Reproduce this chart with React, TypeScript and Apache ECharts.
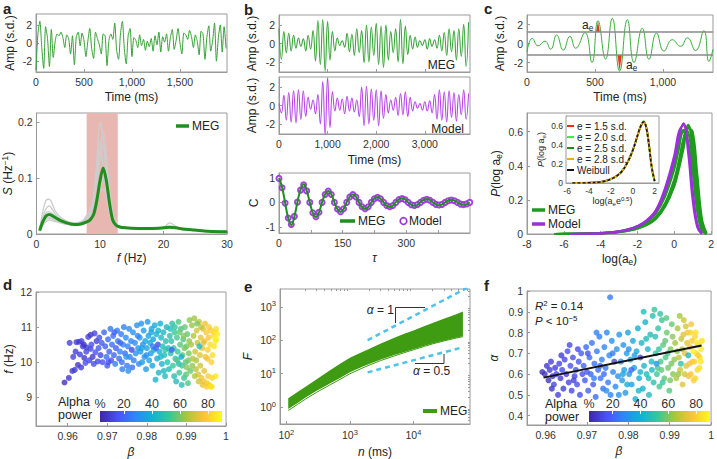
import React, { useEffect, useRef } from 'react';
import * as echarts from 'echarts';

// ---------------- data ----------------
// a: MEG trace (20 ms sampling)
const aStepMs = 20;
const aAmp = [
  -3.0, 1.0, 2.4, -0.5, -2.8, 1.8, 0.5, -2.6, 1.5, -1.6,
  0.2, 1.0, 0.8, 1.2, 0.6, -0.5, 0.9, 0.5, -1.2, 0.8,
  -2.4, 0.7, 1.2, -0.3, 1.1, 0.3, -1.5, 0.2, 1.6, -0.6,
  -1.7, 1.2, 0.5, -0.2, -1.2, 1.0, 0.8, -2.5, 0.3, 1.0,
  0.4, 2.2, -0.8, -1.8, 1.0, 2.4, -0.6, -2.3, 0.8, 1.6,
  -1.5, 0.6, 0.3, -0.5, 0.9, -0.3, 0.4, -0.8, 0.2, -0.4,
  0.5, -0.9, 0.8, -0.2, 1.2, -1.0, 0.7, 0.1, 1.0, -0.9,
  0.6, 1.5, -0.7, 0.3, 1.6, 0.0, -1.2, 1.1, 0.9, 0.4,
  1.4, 0.7, -0.5, 0.9, 0.2, -1.3, 1.3, 1.0, -1.8, 0.6,
  1.9, -0.9, 0.2, 2.2, -2.0, 0.6, 2.0, -1.0, 1.8, -0.6,
];

// a: power spectra
const specFreq = [0.5, 1, 1.5, 2, 3, 4, 5, 6, 7, 8, 8.5, 9, 9.5, 10, 10.5, 11, 11.5, 12, 12.5, 13, 14, 16, 18, 20, 21, 22, 23, 25, 27, 30];
const specMean = [0.006, 0.022, 0.032, 0.035, 0.029, 0.023, 0.019, 0.017, 0.018, 0.022, 0.026, 0.035, 0.06, 0.095, 0.118, 0.095, 0.055, 0.025, 0.016, 0.013, 0.011, 0.010, 0.010, 0.011, 0.012, 0.011, 0.009, 0.007, 0.005, 0.004];
const specSubjects = [
  [0.01, 0.04, 0.06, 0.062, 0.04, 0.028, 0.022, 0.02, 0.022, 0.03, 0.04, 0.07, 0.13, 0.2, 0.17, 0.1, 0.05, 0.025, 0.015, 0.012, 0.01, 0.009, 0.009, 0.01, 0.012, 0.01, 0.008, 0.006, 0.005, 0.004],
  [0.008, 0.03, 0.045, 0.05, 0.035, 0.025, 0.02, 0.018, 0.02, 0.028, 0.035, 0.055, 0.1, 0.15, 0.185, 0.14, 0.07, 0.03, 0.018, 0.014, 0.012, 0.011, 0.011, 0.012, 0.014, 0.012, 0.009, 0.007, 0.005, 0.004],
  [0.006, 0.02, 0.03, 0.03, 0.025, 0.02, 0.017, 0.016, 0.018, 0.03, 0.045, 0.06, 0.09, 0.13, 0.16, 0.12, 0.06, 0.025, 0.016, 0.012, 0.011, 0.01, 0.01, 0.012, 0.02, 0.013, 0.009, 0.006, 0.005, 0.004],
  [0.005, 0.015, 0.022, 0.025, 0.022, 0.019, 0.017, 0.016, 0.02, 0.035, 0.045, 0.05, 0.06, 0.075, 0.08, 0.07, 0.045, 0.025, 0.016, 0.013, 0.012, 0.01, 0.01, 0.011, 0.012, 0.011, 0.009, 0.007, 0.005, 0.004],
  [0.007, 0.025, 0.038, 0.04, 0.032, 0.024, 0.019, 0.018, 0.02, 0.028, 0.038, 0.065, 0.11, 0.165, 0.12, 0.07, 0.035, 0.02, 0.015, 0.012, 0.011, 0.01, 0.01, 0.011, 0.013, 0.011, 0.008, 0.006, 0.005, 0.004],
  [0.005, 0.018, 0.026, 0.028, 0.024, 0.02, 0.017, 0.016, 0.017, 0.022, 0.026, 0.035, 0.055, 0.08, 0.1, 0.11, 0.08, 0.04, 0.02, 0.014, 0.011, 0.01, 0.01, 0.011, 0.012, 0.011, 0.009, 0.007, 0.005, 0.004],
];
const alphaBand = [7.9, 12.8];

// b: MEG and model traces (extrema every 50 ms)
const bStepMs = 50;
const bMEG = [
  1.6, -1.7, 1.3, -1.0, 1.1, -0.8, 0.9, -0.5, 0.6, -0.3, 0.5, -0.8, 0.9, -0.6, 1.4, -1.9, 2.5, -2.3, 2.6, -3.0,
  2.4, -1.8, 1.3, -0.8, 0.6, -0.2, 0.3, -0.4, 1.1, -0.9, 1.0, -1.3, 1.6, -1.0, 1.4, -2.1, 2.0, -2.0, 1.8, -1.3,
  2.2, -2.3, 1.9, -2.6, 2.0, -1.8, 1.3, -1.0, 1.6, -2.0, 2.6, -2.2, 1.9, -1.2, 0.9, -0.6, 0.7, -0.4, 0.3, -0.2,
  0.4, -0.6, 0.5, -0.3, 0.4, -0.5, 0.9, -0.8, 1.2, -1.3, 1.6, -0.9, 1.4, -1.8, 1.6, -1.4, 2.1, -2.5, 2.3,
];
const bModel = [
  0.2, -0.8, 1.1, -1.6, 1.4, -1.8, 1.6, -1.9, 1.7, -1.5, 1.6, -1.2, 0.9, -0.4, 0.6, -0.9, 1.2, -2.0, 2.6, -3.2,
  3.0, -2.4, 1.5, -0.6, 0.8, -0.5, 0.7, -0.9, 1.0, -0.6, 0.8, -0.7, 0.6, -1.2, 2.0, -2.2, 2.1, -2.0, 1.8, -1.6,
  1.7, -2.2, 1.6, -1.4, 1.2, -0.8, 0.6, -0.5, 0.9, -1.1, 1.3, -1.0, 1.5, -1.2, 0.9, -0.6, 0.4, -0.3, 0.2, -0.5,
  0.4, -0.6, 0.5, -0.8, 1.2, -1.5, 1.7, -1.6, 1.5, -1.8, 1.6, -1.3, 1.4, -1.7, 1.2, -1.0, 1.7, -1.5, 1.3,
];

// b: autocorrelation
const acStep = 7.25;
const acMEG = [
  1.0, 0.62, -0.02, -0.65, -0.92, -0.58, 0.02, 0.52, 0.74, 0.48, 0.0, -0.43, -0.6, -0.41, 0.01, 0.33,
  0.47, 0.33, 0.0, -0.28, -0.39, -0.27, 0.01, 0.23, 0.33, 0.23, 0.0, -0.19, -0.27, -0.19, 0.0, 0.16,
  0.22, 0.15, 0.0, -0.14, -0.19, -0.13, 0.01, 0.12, 0.17, 0.12, 0.0, -0.1, -0.14, -0.1, 0.01, 0.1,
  0.14, 0.1, 0.0, -0.08, -0.12, -0.08, 0.0, 0.08, 0.11, 0.08, 0.0, -0.07, -0.1, -0.07, 0.0,
];
const acModel = [
  0.98, 0.6, -0.03, -0.64, -0.9, -0.57, 0.01, 0.5, 0.72, 0.47, 0.0, -0.42, -0.59, -0.4, 0.0, 0.32,
  0.46, 0.32, 0.0, -0.27, -0.38, -0.26, 0.0, 0.22, 0.32, 0.22, 0.0, -0.18, -0.26, -0.18, 0.0, 0.15,
  0.21, 0.15, 0.0, -0.13, -0.18, -0.13, 0.0, 0.12, 0.16, 0.11, 0.0, -0.1, -0.13, -0.09, 0.0, 0.09,
  0.13, 0.09, 0.0, -0.08, -0.11, -0.08, 0.0, 0.07, 0.1, 0.07, 0.0, -0.07, -0.09, -0.06, 0.0,
];

// c: filtered trace with threshold events
const cTime = [0, 39, 81, 132, 174, 218, 267, 316, 358, 426, 478, 522, 578, 627, 681, 738, 787, 848, 897, 953, 1007, 1068, 1130, 1179, 1240, 1301, 1338, 1368];
const cAmp = [-0.9, 0.55, -0.25, 0.25, -0.6, 0.9, -0.7, 0.75, -0.5, 1.15, -2.0, 2.4, -1.65, 2.65, -2.9, 2.5, -2.0, 1.6, -1.65, 1.1, -0.8, 0.4, -0.3, 0.6, -0.75, 1.35, -1.9, -0.6];
const cThresh = [1.2, -1.2];
const cEventUp = [[508, 1.2], [522, 2.4], [536, 1.2]];
const cEventDown = [[666, -1.2], [681, -2.9], [697, -1.2]];

// c: distributions of log(a_e)
const logAe = [-6.5, -5.5, -4.5, -4, -3.5, -3, -2.5, -2, -1.5, -1, -0.5, 0, 0.25, 0.5, 0.75, 1, 1.25, 1.5, 1.75];
const megDist = [
  [0, 0.001, 0.003, 0.005, 0.009, 0.015, 0.026, 0.042, 0.07, 0.12, 0.22, 0.38, 0.5, 0.61, 0.6, 0.42, 0.17, 0.03, 0],
  [0, 0.001, 0.003, 0.005, 0.008, 0.013, 0.022, 0.036, 0.06, 0.1, 0.18, 0.32, 0.43, 0.56, 0.64, 0.5, 0.24, 0.05, 0.002],
  [0, 0.001, 0.002, 0.004, 0.007, 0.011, 0.019, 0.031, 0.052, 0.088, 0.16, 0.28, 0.38, 0.5, 0.62, 0.6, 0.35, 0.09, 0.005],
  [0, 0.001, 0.003, 0.006, 0.01, 0.016, 0.028, 0.045, 0.075, 0.13, 0.23, 0.4, 0.52, 0.6, 0.54, 0.36, 0.13, 0.02, 0],
  [0, 0.001, 0.002, 0.004, 0.007, 0.012, 0.02, 0.034, 0.056, 0.095, 0.17, 0.3, 0.41, 0.54, 0.63, 0.57, 0.3, 0.07, 0.003],
];
const modelAe = [-5.7, -5, -4.5, -4, -3.5, -3, -2.5, -2, -1.5, -1, -0.5, 0, 0.25, 0.5, 0.75, 1, 1.25, 1.5];
const modelDist = [
  [0, 0.001, 0.002, 0.004, 0.008, 0.015, 0.027, 0.047, 0.08, 0.14, 0.27, 0.46, 0.6, 0.64, 0.48, 0.2, 0.04, 0],
  [0, 0.001, 0.002, 0.004, 0.008, 0.014, 0.025, 0.044, 0.075, 0.13, 0.25, 0.43, 0.56, 0.65, 0.53, 0.26, 0.06, 0.002],
];
// c inset: collapsed distributions
const insetX = [-5.5, -4, -3, -2.5, -2, -1.5, -1, -0.5, 0, 0.5, 0.75, 1, 1.25, 1.5, 1.75, 2];
const insetLabels = ['e = 1.5 s.d.', 'e = 2.0 s.d.', 'e = 2.5 s.d.', 'e = 2.8 s.d.', 'Weibull'];
const insetCurves = [
  [0, 0.003, 0.011, 0.022, 0.042, 0.072, 0.122, 0.212, 0.342, 0.515, 0.595, 0.635, 0.58, 0.39, 0.16, 0.025],
  [0, 0.002, 0.009, 0.019, 0.039, 0.069, 0.119, 0.208, 0.338, 0.522, 0.602, 0.645, 0.565, 0.375, 0.145, 0.018],
  [0, 0.002, 0.01, 0.021, 0.041, 0.071, 0.121, 0.211, 0.341, 0.518, 0.598, 0.638, 0.572, 0.382, 0.152, 0.021],
  [0, 0.002, 0.01, 0.02, 0.04, 0.07, 0.12, 0.21, 0.34, 0.52, 0.6, 0.64, 0.57, 0.38, 0.15, 0.02],
];
const weibull = [0, 0.002, 0.01, 0.02, 0.04, 0.07, 0.12, 0.21, 0.34, 0.52, 0.6, 0.64, 0.57, 0.38, 0.15, 0.02];

// d: [beta, peak frequency (Hz), alpha power (%)]
const dPoints = [
  [0.9592, 9.42, 6], [0.9603, 9.55, 8], [0.9612, 9.75, 9], [0.9618, 9.78, 10], [0.9622, 10.57, 12], [0.9628, 10.58, 9], [0.9631, 10.22, 11], [0.9626, 9.92, 8],
  [0.9635, 10.6, 10], [0.9638, 10.45, 12], [0.9642, 10.12, 9], [0.9645, 9.98, 14], [0.9648, 10.42, 10], [0.9652, 10.72, 11], [0.9655, 10.05, 13], [0.9658, 10.38, 12],
  [0.966, 10.5, 15], [0.9663, 10.15, 9], [0.9666, 9.95, 14], [0.9668, 10.82, 12], [0.967, 10.28, 16], [0.9673, 10.6, 11], [0.9676, 10.02, 13], [0.9678, 10.4, 17],
  [0.968, 10.7, 14], [0.9683, 10.2, 12], [0.9686, 10.55, 18], [0.9688, 10.0, 15], [0.9641, 10.5, 7], [0.9647, 10.3, 13], [0.962, 10.3, 10], [0.9658, 10.78, 9],
  [0.9605, 10.55, 11], [0.9614, 10.15, 12], [0.9634, 9.85, 10],
  [0.9692, 10.85, 20], [0.9695, 10.45, 18], [0.9698, 10.15, 22], [0.97, 9.9, 17], [0.9702, 10.65, 21], [0.9705, 10.3, 19], [0.9708, 10.95, 24], [0.971, 10.05, 16],
  [0.9712, 10.5, 23], [0.9715, 10.75, 22], [0.9717, 10.2, 20], [0.972, 9.95, 25], [0.9722, 10.4, 18], [0.9725, 10.9, 26], [0.9727, 10.6, 24], [0.973, 10.1, 21],
  [0.9732, 10.3, 27], [0.9735, 10.8, 25], [0.9737, 10.0, 23], [0.974, 10.5, 28], [0.9742, 11.0, 26], [0.9745, 10.25, 22], [0.9747, 10.7, 29], [0.975, 9.9, 24],
  [0.9752, 10.45, 27], [0.9755, 10.95, 30], [0.9757, 10.15, 25], [0.976, 10.6, 28], [0.9762, 10.35, 12], [0.9765, 10.85, 31], [0.9767, 10.05, 26], [0.977, 10.55, 29],
  [0.9772, 10.25, 30], [0.9775, 11.05, 32], [0.9777, 10.75, 28], [0.978, 9.95, 27], [0.9703, 10.0, 14], [0.9718, 10.85, 19], [0.9733, 10.55, 20], [0.9748, 10.15, 31],
  [0.9763, 9.85, 22], [0.9778, 10.4, 33], [0.9738, 9.8, 26], [0.9753, 9.75, 30],
  [0.9782, 10.7, 30], [0.9784, 10.3, 33], [0.9786, 11.1, 31], [0.9788, 10.0, 35], [0.979, 10.5, 32], [0.9792, 10.9, 34], [0.9794, 10.15, 30], [0.9796, 10.6, 36],
  [0.9798, 9.8, 33], [0.98, 10.4, 35], [0.9802, 11.15, 33], [0.9804, 10.75, 37], [0.9806, 10.05, 36], [0.9808, 10.55, 38], [0.981, 10.25, 34], [0.9812, 10.95, 39],
  [0.9814, 9.9, 37], [0.9816, 10.65, 35], [0.9818, 10.35, 40], [0.982, 11.05, 38], [0.9822, 9.5, 42], [0.9824, 10.8, 41], [0.9826, 10.1, 39], [0.9828, 10.5, 12],
  [0.983, 9.7, 43], [0.9832, 10.3, 41], [0.9834, 11.1, 40], [0.9836, 10.7, 44], [0.9838, 9.95, 42], [0.984, 10.45, 45], [0.9842, 10.85, 43], [0.9844, 10.2, 46],
  [0.9846, 9.6, 45], [0.9848, 10.6, 47], [0.985, 11.0, 44], [0.9852, 10.0, 48], [0.9854, 10.4, 46], [0.9856, 9.8, 47], [0.9858, 10.75, 49], [0.986, 10.25, 48],
  [0.9787, 10.4, 36], [0.9799, 10.2, 31], [0.9811, 10.85, 36], [0.9823, 10.4, 20], [0.9835, 10.15, 43], [0.9847, 10.35, 50], [0.9859, 10.95, 46], [0.9815, 10.45, 24],
  [0.9829, 10.9, 42], [0.9843, 9.75, 44],
  [0.9862, 10.6, 50], [0.9864, 11.1, 49], [0.9866, 9.9, 52], [0.9868, 10.4, 51], [0.987, 10.85, 53], [0.9872, 10.1, 50], [0.9874, 9.45, 46], [0.9876, 10.7, 54],
  [0.9878, 10.3, 52], [0.988, 11.15, 55], [0.9882, 9.7, 53], [0.9884, 10.5, 56], [0.9886, 10.95, 54], [0.9888, 9.35, 48], [0.989, 10.2, 57], [0.9892, 10.65, 55],
  [0.9894, 9.55, 52], [0.9896, 11.0, 58], [0.9898, 10.0, 56], [0.99, 10.45, 59], [0.9902, 10.8, 57], [0.9904, 9.4, 55], [0.9906, 10.25, 60], [0.9908, 11.2, 62],
  [0.991, 9.75, 58], [0.9863, 10.35, 20], [0.9869, 9.6, 47], [0.9877, 10.05, 55], [0.9883, 10.85, 58], [0.9889, 9.9, 54], [0.9895, 10.4, 60], [0.9901, 9.85, 61],
  [0.9907, 10.6, 63], [0.9871, 11.0, 51], [0.9887, 10.15, 40], [0.9899, 9.65, 57], [0.9905, 10.05, 59], [0.9881, 9.95, 49], [0.9893, 10.75, 62],
  [0.9912, 10.5, 65], [0.9914, 11.05, 63], [0.9916, 10.1, 67], [0.9918, 10.75, 66], [0.992, 11.25, 64], [0.9922, 10.3, 70], [0.9924, 9.8, 68], [0.9926, 10.9, 71],
  [0.9928, 10.55, 69], [0.993, 9.65, 72], [0.9932, 11.15, 70], [0.9934, 10.2, 73], [0.9936, 10.7, 74], [0.9938, 9.55, 76], [0.994, 10.4, 75], [0.9942, 10.95, 72],
  [0.9944, 9.45, 78], [0.9946, 10.6, 77], [0.9948, 10.15, 76], [0.995, 10.85, 79], [0.9952, 9.4, 80], [0.9954, 10.35, 81], [0.9956, 10.7, 78], [0.9958, 9.35, 82],
  [0.996, 10.5, 83], [0.9962, 10.9, 80], [0.9964, 9.3, 84], [0.9966, 10.2, 84], [0.9968, 10.75, 85], [0.997, 10.45, 86], [0.9972, 10.85, 82], [0.9974, 9.6, 86],
  [0.9976, 10.65, 88], [0.9978, 10.8, 87], [0.9915, 9.9, 62], [0.9925, 10.05, 65], [0.9935, 9.9, 71], [0.9945, 9.75, 74], [0.9955, 9.6, 80], [0.9965, 9.55, 83],
  [0.9927, 11.1, 60], [0.9937, 11.0, 68], [0.9947, 11.1, 75], [0.9957, 11.0, 79], [0.9933, 10.45, 45], [0.9943, 10.55, 73], [0.9953, 10.1, 77], [0.9963, 10.0, 81],
  [0.9973, 10.6, 87], [0.9921, 9.6, 66], [0.9931, 9.45, 70], [0.9941, 9.35, 74], [0.9951, 9.3, 79], [0.9961, 9.3, 85], [0.9975, 10.95, 84],
];

// e: DFA fluctuation function envelope
const eN = [107, 150, 200, 300, 500, 700, 1000, 1500, 2000, 3000, 5000, 7000, 10000, 15000, 20000, 30000, 45000, 60000];
const eUpper = [1.85, 2.84, 4.1, 6.8, 13.1, 20, 30, 43, 55, 78, 119, 153, 197, 265, 326, 435, 582, 718];
const eLower = [0.88, 1.35, 1.95, 3.1, 5.3, 7.5, 11, 15.5, 19.5, 26, 36, 44, 54, 68, 80, 97, 117, 132];
const eStray = [0.8, 1.22, 1.75, 2.8, 4.8, 6.8, 10, 14.2, 18, 24.5, 34, 42, 52, 66, 78, 95, 114, 128];
const eSlope1 = [[1900, 100], [70000, 3684]];
const eSlopeHalf = [[1900, 11], [60000, 61.8]];

// f: [beta, DFA exponent alpha, alpha power (%)]
const fPoints = [
  [0.9592, 0.61, 6], [0.9598, 0.6, 8], [0.9603, 0.64, 9], [0.9607, 0.57, 7], [0.961, 0.62, 10], [0.9613, 0.66, 11], [0.9617, 0.59, 9], [0.962, 0.55, 12],
  [0.9623, 0.63, 10], [0.9626, 0.6, 13], [0.963, 0.5, 11], [0.9633, 0.65, 12], [0.9636, 0.58, 9], [0.964, 0.62, 14], [0.9643, 0.53, 10], [0.9646, 0.67, 13],
  [0.965, 0.6, 11], [0.9653, 0.71, 15], [0.9656, 0.56, 12], [0.966, 0.64, 16], [0.9663, 0.52, 13], [0.9666, 0.68, 14], [0.967, 0.59, 12], [0.9673, 0.62, 17],
  [0.9676, 0.55, 15], [0.968, 0.66, 16], [0.9683, 0.5, 14], [0.9686, 0.7, 18], [0.9689, 0.6, 15], [0.9615, 0.53, 8], [0.9638, 0.69, 10], [0.9658, 0.74, 13],
  [0.9668, 0.57, 11], [0.9678, 0.72, 14],
  [0.9692, 0.64, 20], [0.9695, 0.57, 18], [0.9698, 0.73, 21], [0.97, 0.61, 17], [0.9703, 0.52, 19], [0.9706, 0.68, 22], [0.9709, 0.6, 20], [0.9712, 0.75, 24],
  [0.9715, 0.55, 18], [0.9718, 0.65, 23], [0.9721, 0.49, 21], [0.9724, 0.71, 25], [0.9727, 0.62, 22], [0.973, 0.78, 26], [0.9733, 0.58, 24], [0.9736, 0.67, 27],
  [0.9739, 0.53, 23], [0.9742, 0.73, 28], [0.9745, 0.63, 25], [0.9748, 0.8, 29], [0.9751, 0.56, 26], [0.9754, 0.69, 30], [0.9757, 0.5, 27], [0.976, 0.76, 31],
  [0.9763, 0.61, 28], [0.9766, 0.66, 12], [0.9769, 0.54, 29], [0.9772, 0.72, 32], [0.9775, 0.59, 30], [0.9778, 0.79, 33], [0.9756, 0.97, 25], [0.9702, 0.7, 15],
  [0.9717, 0.58, 26], [0.9732, 0.64, 19], [0.9747, 0.52, 30], [0.9762, 0.7, 24], [0.9777, 0.5, 31], [0.9741, 0.6, 22], [0.9723, 0.8, 27],
  [0.9782, 0.66, 30], [0.9785, 0.57, 33], [0.9788, 0.74, 31], [0.979, 0.62, 35], [0.9793, 0.51, 32], [0.9796, 0.7, 34], [0.9799, 0.8, 36], [0.9802, 0.6, 33],
  [0.9805, 0.67, 37], [0.9808, 0.55, 36], [0.9811, 0.76, 38], [0.9814, 0.63, 35], [0.9817, 0.48, 40], [0.982, 0.71, 38], [0.9823, 0.82, 41], [0.9826, 0.58, 39],
  [0.9829, 0.68, 12], [0.9832, 0.75, 43], [0.9835, 0.53, 41], [0.9838, 0.64, 44], [0.9841, 0.85, 42], [0.9844, 0.6, 45], [0.9847, 0.72, 43], [0.985, 0.5, 46],
  [0.9853, 0.79, 47], [0.9856, 0.66, 45], [0.9859, 0.88, 48], [0.9861, 0.56, 49], [0.9787, 0.6, 36], [0.9801, 0.72, 30], [0.9815, 0.69, 34], [0.9829, 0.61, 42],
  [0.9843, 0.77, 46], [0.9857, 0.62, 44], [0.9797, 0.55, 38], [0.9825, 0.52, 44], [0.9849, 0.58, 47], [0.9837, 0.9, 45], [0.9807, 0.62, 20],
  [0.9863, 0.91, 52], [0.9866, 0.7, 50], [0.9869, 0.6, 53], [0.9872, 0.82, 51], [0.9875, 0.54, 54], [0.9878, 0.66, 55], [0.9881, 0.86, 53], [0.9884, 0.74, 56],
  [0.9887, 0.58, 57], [0.989, 0.68, 55], [0.9893, 0.8, 58], [0.9896, 0.63, 59], [0.9899, 0.52, 56], [0.9902, 0.72, 60], [0.9905, 0.84, 58], [0.9908, 0.6, 61],
  [0.9911, 0.67, 62], [0.9865, 0.78, 48], [0.9871, 0.63, 55], [0.9877, 0.89, 50], [0.9883, 0.56, 52], [0.9889, 0.76, 57], [0.9895, 0.7, 54], [0.9901, 0.57, 60],
  [0.9907, 0.78, 62], [0.9868, 0.65, 30], [0.988, 0.62, 57], [0.9892, 0.87, 56], [0.9904, 0.65, 59], [0.9874, 0.72, 51],
  [0.9913, 0.75, 64], [0.9916, 0.58, 66], [0.9919, 0.82, 65], [0.9922, 0.68, 68], [0.9925, 0.62, 70], [0.9928, 0.77, 69], [0.9931, 0.55, 72], [0.9934, 0.86, 70],
  [0.9937, 0.7, 74], [0.994, 0.64, 73], [0.9943, 0.8, 76], [0.9946, 0.59, 75], [0.9949, 0.73, 78], [0.9952, 0.84, 77], [0.9955, 0.66, 80], [0.9958, 0.57, 79],
  [0.9961, 0.78, 82], [0.9964, 0.7, 84], [0.9967, 0.62, 83], [0.997, 0.74, 86], [0.9973, 0.68, 85], [0.9976, 0.72, 87], [0.9978, 0.76, 84], [0.9918, 0.71, 62],
  [0.9924, 0.88, 64], [0.993, 0.72, 67], [0.9936, 0.6, 71], [0.9942, 0.75, 74], [0.9948, 0.65, 77], [0.9954, 0.76, 79], [0.996, 0.66, 81], [0.9966, 0.75, 86],
  [0.9972, 0.63, 84], [0.9927, 0.65, 50], [0.9939, 0.83, 72], [0.9951, 0.6, 78], [0.9963, 0.8, 85], [0.9957, 0.71, 88], [0.9945, 0.69, 45], [0.9933, 0.79, 73],
  [0.9921, 0.6, 63], [0.9969, 0.69, 80], [0.9975, 0.66, 86], [0.9962, 0.58, 82], [0.995, 0.8, 81],
];
const fFit = [[0.9595, 0.583], [0.9977, 0.738]];

// colour bar
const powerRange = [3, 90];
const powerTicks = [20, 40, 60, 80];

// ---------------- styling ----------------
const FONT = "'Liberation Sans', Arial, Helvetica, sans-serif";
const FRAME = '#9a9a9a';
const PARULA = ['#3e26a8', '#4852f4', '#2e87f7', '#12b1d6', '#37c897', '#abc739', '#fec338', '#f9fb14'];
const GREEN = '#1f8f1f';
const PURPLE = '#9b30d9';

const richFor = (size: number) => ({
  i: { fontStyle: 'italic', fontSize: size, fontFamily: FONT, color: '#222' },
  sup: { fontSize: size * 0.68, fontFamily: FONT, color: '#222', padding: [0, 0, size * 0.5, 0] },
  sub: { fontSize: size * 0.68, fontFamily: FONT, color: '#222', padding: [size * 0.5, 0, 0, 0] },
});
const RICH = richFor(12);

const comma = (v: number) => (v >= 1000 ? `${Math.floor(v / 1000)},${String(v % 1000).padStart(3, '0')}` : String(v));
const pow10 = (v: number) => `{b|10}{s|${Math.round(Math.log10(v))}}`;

function axis(grid: number, min: number, max: number, ticks: number[], o: any = {}) {
  return {
    type: o.type ?? 'value',
    logBase: 10,
    gridIndex: grid,
    min,
    max,
    position: o.position,
    z: o.z,
    axisLine: { show: o.line ?? true, onZero: false, lineStyle: { color: FRAME } },
    axisTick: {
      show: o.tick ?? true,
      inside: true,
      length: o.tickLen ?? 3,
      customValues: ticks,
      lineStyle: { color: o.tickColor ?? FRAME },
    },
    axisLabel: {
      show: o.labels ?? true,
      customValues: o.labelValues ?? ticks,
      formatter: o.fmt ?? ((v: number) => String(v)),
      margin: o.margin ?? 4,
      color: '#333',
      fontSize: o.labelSize ?? 10.5,
      fontFamily: FONT,
      rich: o.labelRich,
    },
    splitLine: { show: false },
    minorTick: { show: false },
    name: o.name,
    nameLocation: 'middle',
    nameGap: o.gap ?? 20,
    nameTextStyle: { fontSize: o.nameSize ?? 12, color: '#222', fontFamily: FONT, rich: o.nameRich ?? RICH },
  };
}

function polygonSeries(xi: number, yi: number, pts: number[][], color: string) {
  return {
    type: 'custom',
    xAxisIndex: xi,
    yAxisIndex: yi,
    silent: true,
    clip: true,
    data: [pts[0]],
    renderItem: (_p: any, api: any) => ({
      type: 'polygon',
      shape: { points: pts.map((p) => api.coord(p)) },
      style: { fill: color },
    }),
  };
}

function text(x: number, y: number, t: string, o: any = {}) {
  return {
    type: 'text',
    x,
    y,
    z: 100,
    silent: true,
    style: {
      text: t,
      fill: o.fill ?? '#222',
      fontSize: o.size ?? 12,
      fontFamily: FONT,
      fontWeight: o.weight ?? 'normal',
      align: o.align ?? 'left',
      verticalAlign: 'middle',
      rich: o.rich ?? richFor(o.size ?? 12),
    },
  };
}
function seg(x1: number, y1: number, x2: number, y2: number, color: string, w: number) {
  return { type: 'line', z: 100, silent: true, shape: { x1, y1, x2, y2 }, style: { stroke: color, lineWidth: w } };
}

function buildOption() {
  const G = [
    [36, 14, 191, 58], // 0 a trace
    [36, 113, 191, 121], // 1 a spectrum
    [279, 15, 191, 57], // 2 b MEG
    [279, 77, 191, 57], // 3 b model
    [279, 173, 191, 60], // 4 b autocorrelation
    [527, 15, 186, 57], // 5 c trace
    [527, 113, 186, 121], // 6 c distributions
    [566, 116, 93, 67], // 7 c inset
    [36, 292, 190, 134], // 8 d
    [100, 411, 122, 11], // 9 d colour bar
    [280, 289, 190, 136], // 10 e
    [527, 291, 185, 134], // 11 f
    [589, 411, 121, 11], // 12 f colour bar
  ];
  const grid = G.map(([left, top, width, height], i) => ({
    left,
    top,
    width,
    height,
    show: !(i === 9 || i === 12),
    borderColor: FRAME,
    borderWidth: 1,
    backgroundColor: i === 7 ? '#fff' : 'transparent',
    z: i === 7 ? 3 : 0,
  }));

  const logRich = { b: { fontSize: 10.5, fontFamily: FONT, color: '#333' }, s: { fontSize: 7.5, fontFamily: FONT, color: '#333', padding: [0, 0, 6, 0] } };
  const insetRich = richFor(9);
  const eMinorX = [200, 300, 400, 500, 600, 700, 800, 900, 2000, 3000, 4000, 5000, 6000, 7000, 8000, 9000, 20000, 30000, 40000, 50000, 60000, 70000];
  const eMinorY = [0.4, 0.5, 0.6, 0.7, 0.8, 0.9, 2, 3, 4, 5, 6, 7, 8, 9, 20, 30, 40, 50, 60, 70, 80, 90, 200, 300, 400, 500, 600, 700, 800, 900, 2000, 3000];
  const betaTicks = [0.96, 0.97, 0.98, 0.99, 1];
  const cbLabel = (v: number) => (v < 10 ? '%' : String(v));

  const xAxis = [
    axis(0, 0, 1990, [0, 500, 1000, 1500], { fmt: comma, name: 'Time (ms)', gap: 19 }),
    axis(1, 0, 30, [0, 10, 20, 30], { name: '{i|f} (Hz)', gap: 18 }),
    axis(2, 0, 3930, [0, 1000, 2000, 3000], { labels: false }),
    axis(3, 0, 3930, [0, 1000, 2000, 3000], { fmt: comma, name: 'Time (ms)', gap: 20 }),
    axis(4, 0, 450, [0, 75, 150, 225, 300, 375], { labelValues: [0, 150, 300], name: '{i|τ}', gap: 19 }),
    axis(5, 0, 1368, [0, 500, 1000], { fmt: comma, name: 'Time (ms)', gap: 19 }),
    axis(6, -8, 2.05, [-8, -6, -4, -2, 0, 2], { name: 'log(a{sub|e})', gap: 18 }),
    axis(7, -6.1, 2.4, [-6, -4, -2, 0, 2], { labelSize: 8.5, margin: 3, tickLen: 2, name: 'log(a{sub|e}e{sup|0.5})', nameSize: 9, nameRich: insetRich, gap: 12 }),
    axis(8, 0.952, 1.0, betaTicks, { name: '{i|β}', gap: 20 }),
    axis(9, powerRange[0], powerRange[1], powerTicks, { position: 'top', line: false, tickColor: '#f4f4f4', labelValues: [powerRange[0], ...powerTicks], fmt: cbLabel, labelSize: 12.5, margin: 1, z: 50 }),
    axis(10, 79.4, 77600, [100, 1000, 10000], { type: 'log', fmt: pow10, labelRich: logRich, name: '{i|n} (ms)', gap: 22 }),
    axis(11, 0.9555, 1.0, betaTicks, { name: '{i|β}', gap: 20 }),
    axis(12, powerRange[0], powerRange[1], powerTicks, { position: 'top', line: false, tickColor: '#f4f4f4', labelValues: [powerRange[0], ...powerTicks], fmt: cbLabel, labelSize: 12.5, margin: 1, z: 50 }),
    axis(10, 79.4, 77600, eMinorX, { type: 'log', labels: false, line: false, tickLen: 2 }),
  ];
  const yAxis = [
    axis(0, -3.2, 3.2, [-2, 0, 2], { name: 'Amp (s.d.)', gap: 20 }),
    axis(1, 0, 0.216, [0, 0.1, 0.2], { name: '{i|S} (Hz{sup|−1})', gap: 21 }),
    axis(2, -3.1, 3.1, [-2, 0, 2], { name: 'Amp (s.d.)', gap: 21 }),
    axis(3, -3.1, 3.1, [-2, 0, 2], { name: 'Amp (s.d.)', gap: 21 }),
    axis(4, -1.25, 1.2, [-1, 0, 1], { name: 'C', gap: 19 }),
    axis(5, -3.0, 3.0, [-2, 0, 2], { name: 'Amp (s.d.)', gap: 21 }),
    axis(6, 0, 0.71, [0, 0.2, 0.4, 0.6], { name: '{i|P}(log a{sub|e})', gap: 24 }),
    axis(7, 0, 0.7, [0, 0.2, 0.4, 0.6], { labelSize: 8.5, margin: 3, tickLen: 2, name: '{i|P}(log a{sub|e})', nameSize: 9, nameRich: insetRich, gap: 20 }),
    axis(8, 8.18, 12, [9, 10, 11, 12], { name: '{i|f} (Hz)', gap: 21 }),
    axis(9, 0, 1, [], { labels: false, line: false, tick: false }),
    axis(10, 0.316, 3390, [1, 10, 100, 1000], { type: 'log', fmt: pow10, labelRich: logRich, name: '{i|F}', gap: 26 }),
    axis(11, 0.355, 1.0, [0.4, 0.5, 0.6, 0.7, 0.8, 0.9, 1], { name: '{i|α}', gap: 27 }),
    axis(12, 0, 1, [], { labels: false, line: false, tick: false }),
    axis(10, 0.316, 3390, eMinorY, { type: 'log', labels: false, line: false, tickLen: 2 }),
  ];

  const line = (xi: number, data: any[], color: string, width: number, extra: any = {}) => ({
    type: 'line',
    xAxisIndex: xi,
    yAxisIndex: xi,
    data,
    showSymbol: false,
    symbol: 'none',
    silent: true,
    lineStyle: { color, width },
    ...extra,
  });

  const series: any[] = [];
  // a
  series.push(line(0, aAmp.map((v, i) => [i * aStepMs, v]), '#34a034', 1, { smooth: 0.25 }));
  series.push(line(1, [[alphaBand[0], 0]], 'transparent', 0, {
    z: 1,
    markArea: { silent: true, itemStyle: { color: '#e9b7b1' }, data: [[{ xAxis: alphaBand[0] }, { xAxis: alphaBand[1] }]] },
  }));
  specSubjects.forEach((s) => series.push(line(1, specFreq.map((f, i) => [f, s[i]]), '#cdcdcd', 1.3, { smooth: 0.3 })));
  series.push(line(1, specFreq.map((f, i) => [f, specMean[i]]), GREEN, 3, { smooth: 0.3 }));
  // b
  series.push(line(2, bMEG.map((v, i) => [i * bStepMs, v]), '#3aa53a', 1.1, { smooth: 0.5 }));
  series.push(line(3, bModel.map((v, i) => [i * bStepMs, v]), '#b847e8', 1.1, { smooth: 0.5 }));
  series.push(line(4, acMEG.map((v, i) => [i * acStep, v]), GREEN, 2, { smooth: 0.4 }));
  series.push({
    type: 'scatter', xAxisIndex: 4, yAxisIndex: 4, silent: true,
    data: acModel.map((v, i) => [i * acStep, v]),
    symbol: 'emptyCircle', symbolSize: 5,
    itemStyle: { color: PURPLE, borderWidth: 1.5, opacity: 0.9 },
  });
  // c
  series.push(line(5, cTime.map((t, i) => [t, cAmp[i]]), '#3aac3a', 1, {
    smooth: 0.5,
    markLine: {
      silent: true, symbol: 'none', label: { show: false },
      lineStyle: { color: '#8a8a8a', width: 1.6, type: 'solid' },
      data: cThresh.map((v) => ({ yAxis: v })),
    },
  }));
  series.push(polygonSeries(5, 5, cEventUp, '#f0321e'));
  series.push(polygonSeries(5, 5, cEventDown, '#f0321e'));
  megDist.forEach((d) => series.push(line(6, logAe.map((x, i) => [x, d[i]]), '#1f9a1f', 2.2, { smooth: 0.4 })));
  modelDist.forEach((d) => series.push(line(6, modelAe.map((x, i) => [x, d[i]]), PURPLE, 2.2, { smooth: 0.4 })));
  const insetColors = ['#ee2a1a', '#4ce34c', '#17921a', '#f5a623'];
  insetCurves.forEach((d, k) => series.push(line(7, insetX.map((x, i) => [x, d[i]]), insetColors[k], 1.8, { smooth: 0.4, z: 4 })));
  series.push(line(7, insetX.map((x, i) => [x, weibull[i]]), '#111', 1.5, { smooth: 0.4, z: 4, lineStyle: { color: '#111', width: 1.5, type: [3, 2] } }));
  // d
  const dIndex = series.length;
  series.push({ type: 'scatter', xAxisIndex: 8, yAxisIndex: 8, silent: true, data: dPoints, symbolSize: 6 });
  // e
  series.push(polygonSeries(10, 10, eN.map((n, i) => [n, eUpper[i]]).concat(eN.map((n, i) => [n, eLower[i]]).reverse()), '#3e9b12'));
  series.push(line(10, eN.map((n, i) => [n, eStray[i]]), '#3e9b12', 1));
  series.push(line(10, eSlope1, '#4cc2ec', 2.5, { lineStyle: { color: '#4cc2ec', width: 2.5, type: [5, 4] } }));
  series.push(line(10, eSlopeHalf, '#4cc2ec', 2.5, { lineStyle: { color: '#4cc2ec', width: 2.5, type: [5, 4] } }));
  // f
  const fIndex = series.length;
  series.push({ type: 'scatter', xAxisIndex: 11, yAxisIndex: 11, silent: true, data: fPoints, symbolSize: 6 });
  series.push(line(11, fFit, '#111', 2));

  const visualMap = [dIndex, fIndex].map((si) => ({
    type: 'continuous', show: false, seriesIndex: si, dimension: 2,
    min: powerRange[0], max: powerRange[1], inRange: { color: PARULA },
  }));

  const grad = () => new echarts.graphic.LinearGradient(0, 0, 1, 0, PARULA.map((c, i) => ({ offset: i / (PARULA.length - 1), color: c })));
  const cbRect = (g: number[]) => ({ type: 'rect', z: 10, silent: true, shape: { x: g[0], y: g[1], width: g[2], height: g[3] }, style: { fill: grad() } });

  const bold = { size: 15, weight: 'bold' };
  const insetRowY = [126, 137, 148, 159, 170];
  const graphic: any[] = [
    text(3, 8, 'a', bold), text(244, 9, 'b', bold), text(484, 8, 'c', bold),
    text(3, 284, 'd', bold), text(244, 286, 'e', bold), text(484, 285, 'f', bold),
    // a legend
    seg(176, 126, 189, 126, GREEN, 3.5), text(192, 126, 'MEG'),
    // b labels + legend
    text(455, 65, 'MEG', { align: 'right' }), text(464, 129, 'Model', { align: 'right' }),
    seg(340, 221, 355, 221, GREEN, 3.5), text(358, 221, 'MEG'),
    { type: 'circle', z: 100, silent: true, shape: { cx: 403.5, cy: 221, r: 3.3 }, style: { fill: '#fff', stroke: PURPLE, lineWidth: 1.6 } },
    text(409, 221, 'Model'),
    // c annotations
    text(582, 25, 'a{sub|e}'), text(626, 65, 'a{sub|e}'),
    seg(532, 210, 545, 210, '#1f9a1f', 3.5), text(548, 210, 'MEG'),
    seg(532, 224, 545, 224, PURPLE, 3.5), text(548, 224, 'Model'),
    ...insetLabels.flatMap((lab, k) => [
      seg(567, insetRowY[k], 574, insetRowY[k], k < 4 ? insetColors[k] : '#111', 2),
      text(577, insetRowY[k], lab, { size: 10 }),
    ]),
    // d colour bar
    cbRect(G[9]), text(58, 402, 'Alpha', { size: 12.5 }), text(58, 415, 'power', { size: 12.5 }),
    // e annotations
    text(394, 310, '{i|α} = 1', { align: 'right' }),
    seg(395.5, 307.5, 425, 307.5, '#333', 1), seg(395.5, 307.5, 395.5, 323, '#333', 1),
    text(413, 371, '{i|α} = 0.5'),
    seg(415, 363.5, 444, 363.5, '#333', 1), seg(444, 354, 444, 363.5, '#333', 1),
    seg(423, 411, 437, 411, '#3e9b12', 4), text(440, 411, 'MEG'),
    // f annotations
    text(535, 306, '{i|R}{sup|2} = 0.14', { size: 11.5 }), text(535, 321, '{i|P} < 10{sup|−5}', { size: 11.5 }),
    cbRect(G[12]), text(545, 404, 'Alpha', { size: 12.5 }), text(545, 416.5, 'power', { size: 12.5 }),
  ];

  return {
    animation: false,
    backgroundColor: '#fff',
    textStyle: { fontFamily: FONT },
    grid,
    xAxis,
    yAxis,
    series,
    visualMap,
    graphic,
  };
}

export default function App() {
  const ref = useRef<HTMLDivElement>(null);
  useEffect(() => {
    document.body.style.margin = '0';
    const chart = echarts.init(ref.current!, null, { renderer: 'svg' });
    chart.setOption(buildOption() as any);
    return () => chart.dispose();
  }, []);
  return <div ref={ref} style={{ width: 717, height: 459 }} />;
}
